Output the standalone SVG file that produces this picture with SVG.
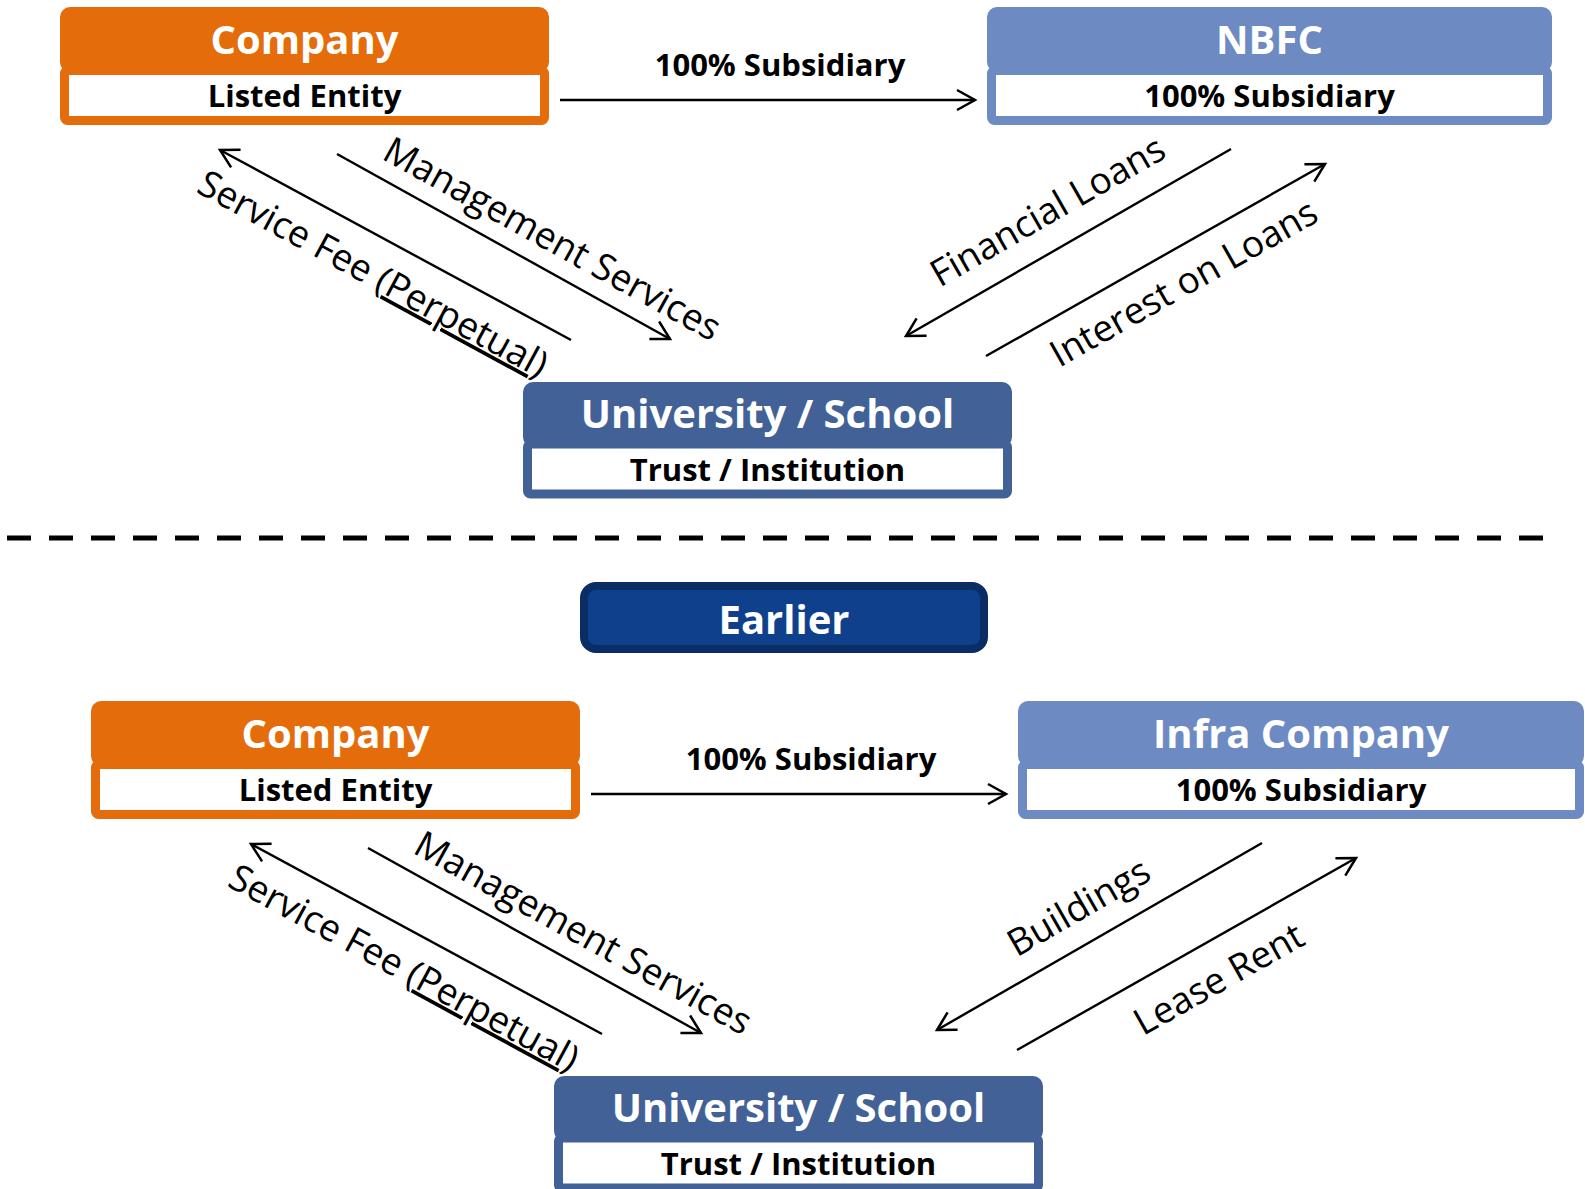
<svg xmlns="http://www.w3.org/2000/svg" width="1585" height="1189" viewBox="0 0 1585 1189">
<defs>
<marker id="arr" markerUnits="userSpaceOnUse" markerWidth="26" markerHeight="26" viewBox="-22 -13 26 26" refX="0" refY="0" orient="auto">
<path d="M-18,-10 L0,0 L-18,10" fill="none" stroke="#000" stroke-width="2.5" stroke-linejoin="miter"/>
</marker>
</defs>
<style>
.t{font-family:"Open Sans","Noto Sans","DejaVu Sans",sans-serif;text-anchor:middle}
.title{font-size:40px;font-weight:700;fill:#fff}
.sub{font-size:31px;font-weight:700;fill:#000}
.lbl{font-size:37px;font-weight:400;fill:#000}
.blbl{font-size:31px;font-weight:700;fill:#000}
.orangeH{fill:#E46C0A}
.orangeB{fill:#fff;stroke:#E46C0A;stroke-width:9}
.lightH{fill:#6D8BC2}
.lightB{fill:#fff;stroke:#6D8BC2;stroke-width:9}
.darkH{fill:#426196}
.darkB{fill:#fff;stroke:#426196;stroke-width:9}
.conn{stroke:#000;stroke-width:2.4;fill:none;marker-end:url(#arr)}
</style>
<rect width="1585" height="1189" fill="#fff"/>

<g id="company-top">
<rect class="orangeH" x="60" y="7" width="489" height="65" rx="10"/>
<rect class="orangeB" x="64.5" y="70.5" width="480" height="50" rx="3"/>
<text class="t title" x="304.5" y="54">Company</text>
<text class="t sub" x="304.5" y="107">Listed Entity</text>
</g>

<g id="nbfc-top">
<rect class="lightH" x="987" y="7" width="565" height="65" rx="10"/>
<rect class="lightB" x="991.5" y="70.5" width="556" height="50" rx="3"/>
<text class="t title" x="1269.5" y="54">NBFC</text>
<text class="t sub" x="1269.5" y="107">100% Subsidiary</text>
</g>

<g id="university-top">
<rect class="darkH" x="523" y="382" width="489" height="65" rx="10"/>
<rect class="darkB" x="527.5" y="444" width="480" height="50" rx="3"/>
<text class="t title" x="767.5" y="428">University / School</text>
<text class="t sub" x="767.5" y="481">Trust / Institution</text>
</g>

<line id="divider" x1="7" y1="538" x2="1543" y2="538" stroke="#000" stroke-width="5" stroke-dasharray="24 18"/>

<g id="earlier">
<rect x="584" y="586" width="400" height="63" rx="12" fill="#0E408C" stroke="#0B2D66" stroke-width="8"/>
<text class="t title" x="784" y="634">Earlier</text>
</g>

<g id="company-bottom">
<rect class="orangeH" x="91" y="701" width="489" height="65" rx="10"/>
<rect class="orangeB" x="95.5" y="764.5" width="480" height="50" rx="3"/>
<text class="t title" x="335.5" y="748">Company</text>
<text class="t sub" x="335.5" y="801">Listed Entity</text>
</g>

<g id="infra-bottom">
<rect class="lightH" x="1018" y="701" width="566" height="65" rx="10"/>
<rect class="lightB" x="1022.5" y="764.5" width="557" height="50" rx="3"/>
<text class="t title" x="1301" y="748">Infra Company</text>
<text class="t sub" x="1301" y="801">100% Subsidiary</text>
</g>

<g id="university-bottom">
<rect class="darkH" x="554" y="1076" width="489" height="65" rx="10"/>
<rect class="darkB" x="558.5" y="1138" width="480" height="50" rx="3"/>
<text class="t title" x="798.5" y="1122">University / School</text>
<text class="t sub" x="798.5" y="1175">Trust / Institution</text>
</g>

<g id="connectors">
<line class="conn" x1="560" y1="100" x2="975" y2="100"/>
<line class="conn" x1="571" y1="340" x2="220" y2="150"/>
<line class="conn" x1="337" y1="154" x2="670" y2="339"/>
<line class="conn" x1="1231" y1="149" x2="906" y2="336"/>
<line class="conn" x1="986" y1="356" x2="1325" y2="164"/>

<line class="conn" x1="591" y1="794" x2="1006" y2="794"/>
<line class="conn" x1="602" y1="1034" x2="251" y2="844"/>
<line class="conn" x1="368" y1="848" x2="701" y2="1033"/>
<line class="conn" x1="1262" y1="843" x2="937" y2="1030"/>
<line class="conn" x1="1017" y1="1050" x2="1356" y2="858"/>

<text class="t blbl" x="780" y="76">100% Subsidiary</text>
<text class="t lbl" transform="translate(367,285) rotate(28.5)">Service Fee (<tspan text-decoration="underline">Perpetual</tspan>)</text>
<text class="t lbl" transform="translate(546,250) rotate(29)">Management Services</text>
<text class="t lbl" transform="translate(1054,222) rotate(-29.9)">Financial Loans</text>
<text class="t lbl" transform="translate(1190,294) rotate(-29.5)">Interest on Loans</text>

<text class="t blbl" x="811" y="770">100% Subsidiary</text>
<text class="t lbl" transform="translate(398,979) rotate(28.5)">Service Fee (<tspan text-decoration="underline">Perpetual</tspan>)</text>
<text class="t lbl" transform="translate(577,944) rotate(29)">Management Services</text>
<text class="t lbl" transform="translate(1085,918) rotate(-30)">Buildings</text>
<text class="t lbl" transform="translate(1225,990) rotate(-29.5)">Lease Rent</text>
</g>
</svg>
